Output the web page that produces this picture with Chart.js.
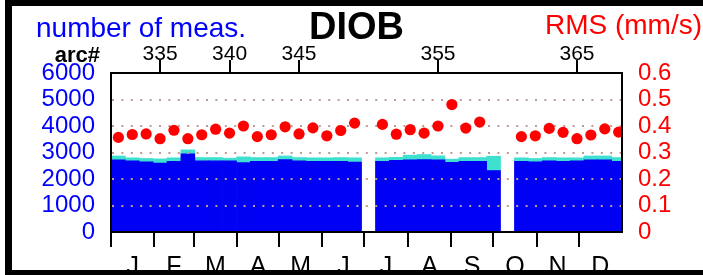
<!DOCTYPE html>
<html>
<head>
<meta charset="utf-8">
<script src="https://cdn.jsdelivr.net/npm/chart.js@4.4.0/dist/chart.umd.min.js"></script>
<style>
  body { margin: 0; background: #fff; }
  #wrap { position: relative; width: 703px; height: 275px; overflow: hidden; }
  #wrap canvas { position: absolute; left: 0; top: 0; }
  #frame { position: absolute; left: 5px; top: -1px; width: 720px; height: 264px; border: 7px solid #000; pointer-events: none; }
</style>
</head>
<body>
<div id="wrap">
  <canvas id="diob" width="703" height="275"></canvas>
  <div id="frame"></div>
</div>
<script>
// arc numbers (350 and 360 have no data)
const arcs = [332, 333, 334, 335, 336, 337, 338, 339, 340, 341, 342, 343, 344, 345, 346, 347, 348, 349, 350,
              351, 352, 353, 354, 355, 356, 357, 358, 359, 360, 361, 362, 363, 364, 365, 366, 367, 368];
// number of measurements, blue part of the bar
const measBlue = [2720, 2685, 2650, 2600, 2670, 2950, 2685, 2685, 2685, 2620, 2670, 2670, 2735, 2685, 2670, 2670, 2670, 2635, null,
                  2670, 2700, 2720, 2735, 2720, 2630, 2670, 2670, 2320, null, 2670, 2650, 2685, 2670, 2685, 2720, 2720, 2670];
// turquoise part on top of the blue one
const measTurq = [150, 115, 125, 160, 130, 150, 125, 125, 100, 215, 140, 140, 135, 125, 130, 130, 140, 165, null,
                  130, 120, 180, 190, 155, 120, 140, 140, 540, null, 130, 125, 125, 130, 115, 150, 150, 140];
// RMS in mm/s
const rms = [0.357, 0.368, 0.370, 0.352, 0.384, 0.352, 0.367, 0.388, 0.373, 0.400, 0.360, 0.367, 0.397, 0.370, 0.393, 0.363, 0.383, 0.411, null,
             0.406, 0.369, 0.386, 0.373, 0.400, 0.481, 0.392, 0.415, null, null, 0.360, 0.363, 0.391, 0.376, 0.352, 0.366, 0.389, 0.377];

const arcTicks = [335, 340, 345, 355, 365];
const monthLabels = ['J', 'F', 'M', 'A', 'M', 'J', 'J', 'A', 'S', 'O', 'N', 'D'];
const monthStarts = [0, 31, 59, 90, 120, 151, 181, 212, 243, 273, 304, 334];
const yearDays = 365;
const gridLevels = [1000, 2000, 3000, 4000, 5000];

const fontFam = "'Liberation Sans', Arial, Helvetica, sans-serif";
Chart.defaults.font.family = fontFam;

//mid points of months for the letters
const monthMids = monthStarts.map((d, i) => (d + (i < monthStarts.length - 1 ? monthStarts[i + 1] : yearDays)) / 2);

const overlay = {
    id: 'overlay',
    beforeDatasetDraw(chart, args) {
        //dotted grid goes over the bars but under the red dots
        if (args.index !== 2) return;
        const ctx = chart.ctx;
        const a = chart.chartArea;
        const y = chart.scales.y;
        ctx.save();
        ctx.beginPath();
        ctx.rect(a.left, a.top, a.right - a.left, a.bottom - a.top);
        ctx.clip();
        ctx.strokeStyle = 'rgb(190, 155, 150)';
        ctx.lineWidth = 2;
        ctx.setLineDash([2, 7.4]);
        gridLevels.forEach(v => {
            const py = Math.round(y.getPixelForValue(v));
            ctx.beginPath();
            ctx.moveTo(a.left + 1, py);
            ctx.lineTo(a.right, py);
            ctx.stroke();
        });
        ctx.restore();
    },
    afterDatasetsDraw(chart) {
        const ctx = chart.ctx;
        const a = chart.chartArea;
        ctx.save();
        ctx.strokeStyle = '#000';
        ctx.lineWidth = 2;
        ctx.strokeRect(a.left, a.top, a.right - a.left, a.bottom - a.top);
        ctx.restore();
    },
    afterDraw(chart) {
        const ctx = chart.ctx;
        ctx.save();
        ctx.textBaseline = 'alphabetic';
        ctx.font = '28px ' + fontFam;
        ctx.fillStyle = '#0000ff';
        ctx.textAlign = 'left';
        ctx.fillText('number of meas.', 36, 37);
        ctx.fillStyle = '#ff0000';
        ctx.textAlign = 'right';
        ctx.fillText('RMS (mm/s)', 702, 33.5);
        ctx.fillStyle = '#000';
        ctx.font = 'bold 38px ' + fontFam;
        ctx.textAlign = 'center';
        ctx.fillText('DIOB', 356.5, 38.5);
        ctx.font = 'bold 22px ' + fontFam;
        ctx.textAlign = 'right';
        ctx.fillText('arc#', 100, 61.5);
        ctx.restore();
    }
};

const ctx = document.getElementById('diob');
new Chart(ctx, {
    type: 'bar',
    data: {
        labels: arcs,
        datasets: [{
            label: 'meas',
            data: measBlue,
            backgroundColor: 'rgb(0, 0, 245)',
            borderWidth: 0,
            barPercentage: 1,
            categoryPercentage: 1,
            xAxisID: 'x',
            yAxisID: 'y',
            order: 1
        }, {
            label: 'meas2',
            data: measTurq,
            backgroundColor: 'rgb(64, 224, 208)',
            borderWidth: 0,
            barPercentage: 1,
            categoryPercentage: 1,
            xAxisID: 'x',
            yAxisID: 'y',
            order: 1
        }, {
            type: 'line',
            label: 'RMS',
            data: rms,
            showLine: false,
            pointRadius: 5.6,
            pointBackgroundColor: 'rgb(255, 0, 0)',
            pointBorderWidth: 0,
            xAxisID: 'x',
            yAxisID: 'y2',
            order: 0
        }]
    },
    options: {
        responsive: false,
        animation: false,
        layout: { padding: 0 },
        plugins: { legend: { display: false }, tooltip: { enabled: false } },
        scales: {
            x: {
                type: 'linear',
                position: 'top',
                min: 331.47,
                max: 368.24,
                offset: false,
                stacked: true,
                afterBuildTicks: s => { s.ticks = arcTicks.map(v => ({ value: v })); },
                afterFit: s => { s.height = 73; },
                grid: { display: true, offset: false, drawOnChartArea: false, drawTicks: true, tickLength: 13, tickWidth: 2, tickColor: '#000', color: '#000', lineWidth: 2 },
                border: { display: false },
                ticks: { color: '#000', font: { size: 21, lineHeight: 1 }, padding: -4.5, maxRotation: 0, autoSkip: false }
            },
            xm: {
                axis: 'x',
                type: 'linear',
                position: 'bottom',
                weight: 0,
                min: 0,
                max: yearDays,
                offset: false,
                afterBuildTicks: s => { s.ticks = monthStarts.map(v => ({ value: v })); },
                afterFit: s => { s.height = 15; },
                grid: { display: true, offset: false, drawOnChartArea: false, drawTicks: true, tickLength: 15, tickWidth: 2, tickColor: '#000', color: '#000', lineWidth: 2 },
                border: { display: false },
                ticks: { display: false }
            },
            xl: {
                axis: 'x',
                type: 'linear',
                position: 'bottom',
                weight: 1,
                min: 0,
                max: yearDays,
                offset: false,
                afterBuildTicks: s => { s.ticks = monthMids.map(v => ({ value: v })); },
                afterFit: s => { s.height = 28; },
                grid: { display: false, drawTicks: false, offset: false },
                border: { display: false },
                ticks: {
                    color: '#000',
                    font: { size: 25, lineHeight: 1 },
                    padding: 7.5,
                    maxRotation: 0,
                    autoSkip: false,
                    callback: (v, i) => monthLabels[i]
                }
            },
            y: {
                position: 'left',
                min: 0,
                max: 6000,
                stacked: true,
                afterFit: s => { s.width = 111; },
                grid: { display: false, drawTicks: false },
                border: { display: false },
                ticks: { stepSize: 1000, autoSkip: false, color: '#0000ff', font: { size: 24, lineHeight: 1 }, padding: 16, callback: v => String(v) }
            },
            y2: {
                position: 'right',
                min: 0,
                max: 0.6,
                afterFit: s => { s.width = 81; },
                grid: { display: false, drawTicks: false },
                border: { display: false },
                ticks: { stepSize: 0.1, autoSkip: false, color: '#ff0000', font: { size: 24, lineHeight: 1 }, padding: 16, callback: v => v === 0 ? '0' : v.toFixed(1) }
            }
        }
    },
    plugins: [overlay]
});
</script>
</body>
</html>
